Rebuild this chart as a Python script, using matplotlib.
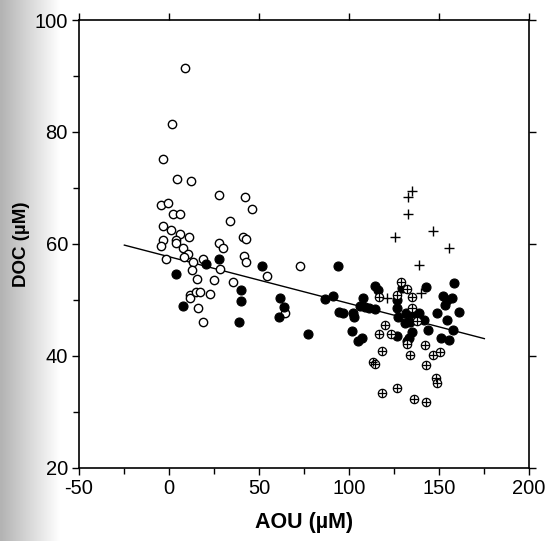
import matplotlib.pyplot as plt
import numpy as np

# open circles
open_x = [8.9, 1.7, -3.5, 4.3, 12.4, 27.9, -4.6, -0.4, 2.2, 6.3, 33.7, -3.3, 0.9,
          6.3, 10.9, -3.2, 3.9, 3.9, -4.6, 7.9, 27.9, 29.8, 10.7, -1.8, 8.3, 13.5,
          18.9, 28.5, 12.8, 15.6, 24.8, 35.6, 11.7, 11.7, 15.0, 17.2, 22.9, 16.1,
          19.1, 42.2, 46.1, 41.3, 42.9, 41.8, 42.8, 54.6, 72.6, 64.3]
open_y = [91.4, 81.4, 75.2, 71.6, 71.2, 68.7, 67.0, 67.4, 65.4, 65.4, 64.1, 63.2, 62.5,
          61.8, 61.2, 60.7, 60.7, 60.2, 59.7, 59.2, 60.2, 59.3, 58.2, 57.4, 57.7, 56.8,
          57.4, 55.6, 55.4, 53.8, 53.6, 53.2, 50.9, 50.4, 51.4, 51.4, 51.1, 48.5,
          46.1, 68.4, 66.2, 61.25, 60.9, 57.9, 56.7, 54.3, 56.1, 47.6]

# filled circles
fill_x = [4.1, 20.7, 27.6, 7.9, 40.0, 40.2, 38.9, 51.5, 61.8, 63.9, 60.9, 77.4, 86.8,
          94.1, 91.3, 107.9, 106.1, 108.9, 111.3, 114.4, 94.6, 96.5, 102.1, 102.8,
          114.4, 116.3, 129.3, 142.8, 158.3, 152.1, 154.3, 153.3, 157.1, 126.5, 126.5,
          131.7, 133.9, 136.7, 138.7, 127.4, 131.1, 133.9, 141.8, 149.1, 154.6, 161.3,
          157.9, 143.7, 101.5, 105.2, 107.1, 126.5, 134.8, 133.3, 132.4, 150.9, 155.6]
fill_y = [54.6, 56.4, 57.4, 48.9, 51.8, 49.8, 46.1, 56.1, 50.4, 48.75, 47.0, 43.9, 50.2,
          56.1, 50.8, 50.4, 48.9, 48.8, 48.5, 48.4, 47.9, 47.6, 47.6, 47.0,
          52.5, 51.8, 52.1, 52.3, 53.1, 50.7, 50.0, 49.1, 50.3, 50.0, 48.5,
          47.6, 47.6, 47.7, 47.6, 47.0, 45.9, 46.1, 46.4, 47.6, 46.4, 47.8,
          44.6, 44.6, 44.5, 42.6, 43.2, 43.6, 44.3, 43.2, 42.6, 43.2, 42.9]

# crossed circles
cross_x = [129.1, 132.1, 116.8, 126.5, 135.0, 135.0, 137.9, 120.2, 116.8, 123.2, 132.1,
           142.1, 118.2, 134.1, 146.8, 150.6, 113.5, 114.3, 142.8, 148.3, 148.7, 118.3,
           126.8, 136.3, 142.6]
cross_y = [53.2, 52.0, 50.6, 50.9, 50.6, 48.5, 46.2, 45.6, 43.9, 43.9, 42.1,
           42.0, 40.9, 40.2, 40.1, 40.8, 39.0, 38.6, 38.4, 36.0, 35.1, 33.45,
           34.2, 32.4, 31.8]

# plus signs
plus_x = [135.2, 132.9, 132.8, 146.5, 125.7, 155.6, 139.1, 140.0, 121.1]
plus_y = [69.5, 68.4, 65.4, 62.4, 61.25, 59.3, 56.3, 51.3, 50.3]

# regression line
fit_slope = -0.0835
fit_icept = 57.73
fit_range = [-24.8, 175.2]

plt.rcParams['font.family'] = ['Liberation Sans', 'DejaVu Sans']
plt.rcParams['axes.unicode_minus'] = False

fig = plt.figure(figsize=(5.47, 5.41), dpi=100)

# scanned page shading at the left edge
bg = fig.add_axes([0, 0, 0.11, 1], zorder=-5)
grad = np.linspace(0.70, 1.0, 60).reshape(1, -1)
bg.imshow(grad, cmap='gray', vmin=0, vmax=1, aspect='auto', extent=[0, 1, 0, 1])
bg.axis('off')

ax = fig.add_axes([79/547, 1 - 468/541, 450/547, 448/541])
ax.set_facecolor('none')

fx = np.array(fit_range)
ax.plot(fx, fit_icept + fit_slope * fx, color='black', lw=1.0, zorder=2)

ax.plot(open_x, open_y, 'o', ms=6, mfc='white', mec='black', mew=1.0, ls='none', zorder=3)
ax.plot(fill_x, fill_y, 'o', ms=6.5, mfc='black', mec='black', mew=0.8, ls='none', zorder=3)
ax.plot(cross_x, cross_y, 'o', ms=6, mfc='white', mec='black', mew=0.9, ls='none', zorder=4)
ax.plot(cross_x, cross_y, '+', ms=6, color='black', mew=0.9, ls='none', zorder=5)
ax.plot(plus_x, plus_y, '+', ms=7.5, color='black', mew=1.0, ls='none', zorder=4)

ax.set_xlim(-50, 200)
ax.set_ylim(20, 100)
ax.set_xticks([-50, 0, 50, 100, 150, 200])
ax.set_xticks([-25, 25, 75, 125, 175], minor=True)
ax.set_yticks([20, 40, 60, 80, 100])
ax.set_yticks([30, 50, 70, 90], minor=True)

ax.tick_params(which='major', direction='out', length=5, width=1, labelsize=14.5,
               top=True, right=True, pad=3)
ax.tick_params(which='minor', direction='out', length=4, width=1, top=False, right=False)
for s in ax.spines.values():
    s.set_linewidth(1.2)

ax.set_xlabel('AOU (µM)', fontsize=15.5, fontweight='bold', labelpad=10)
ax.set_ylabel('DOC (µM)', fontsize=13.5, fontweight='bold', labelpad=3)

fig.savefig('out.png', dpi=100)
